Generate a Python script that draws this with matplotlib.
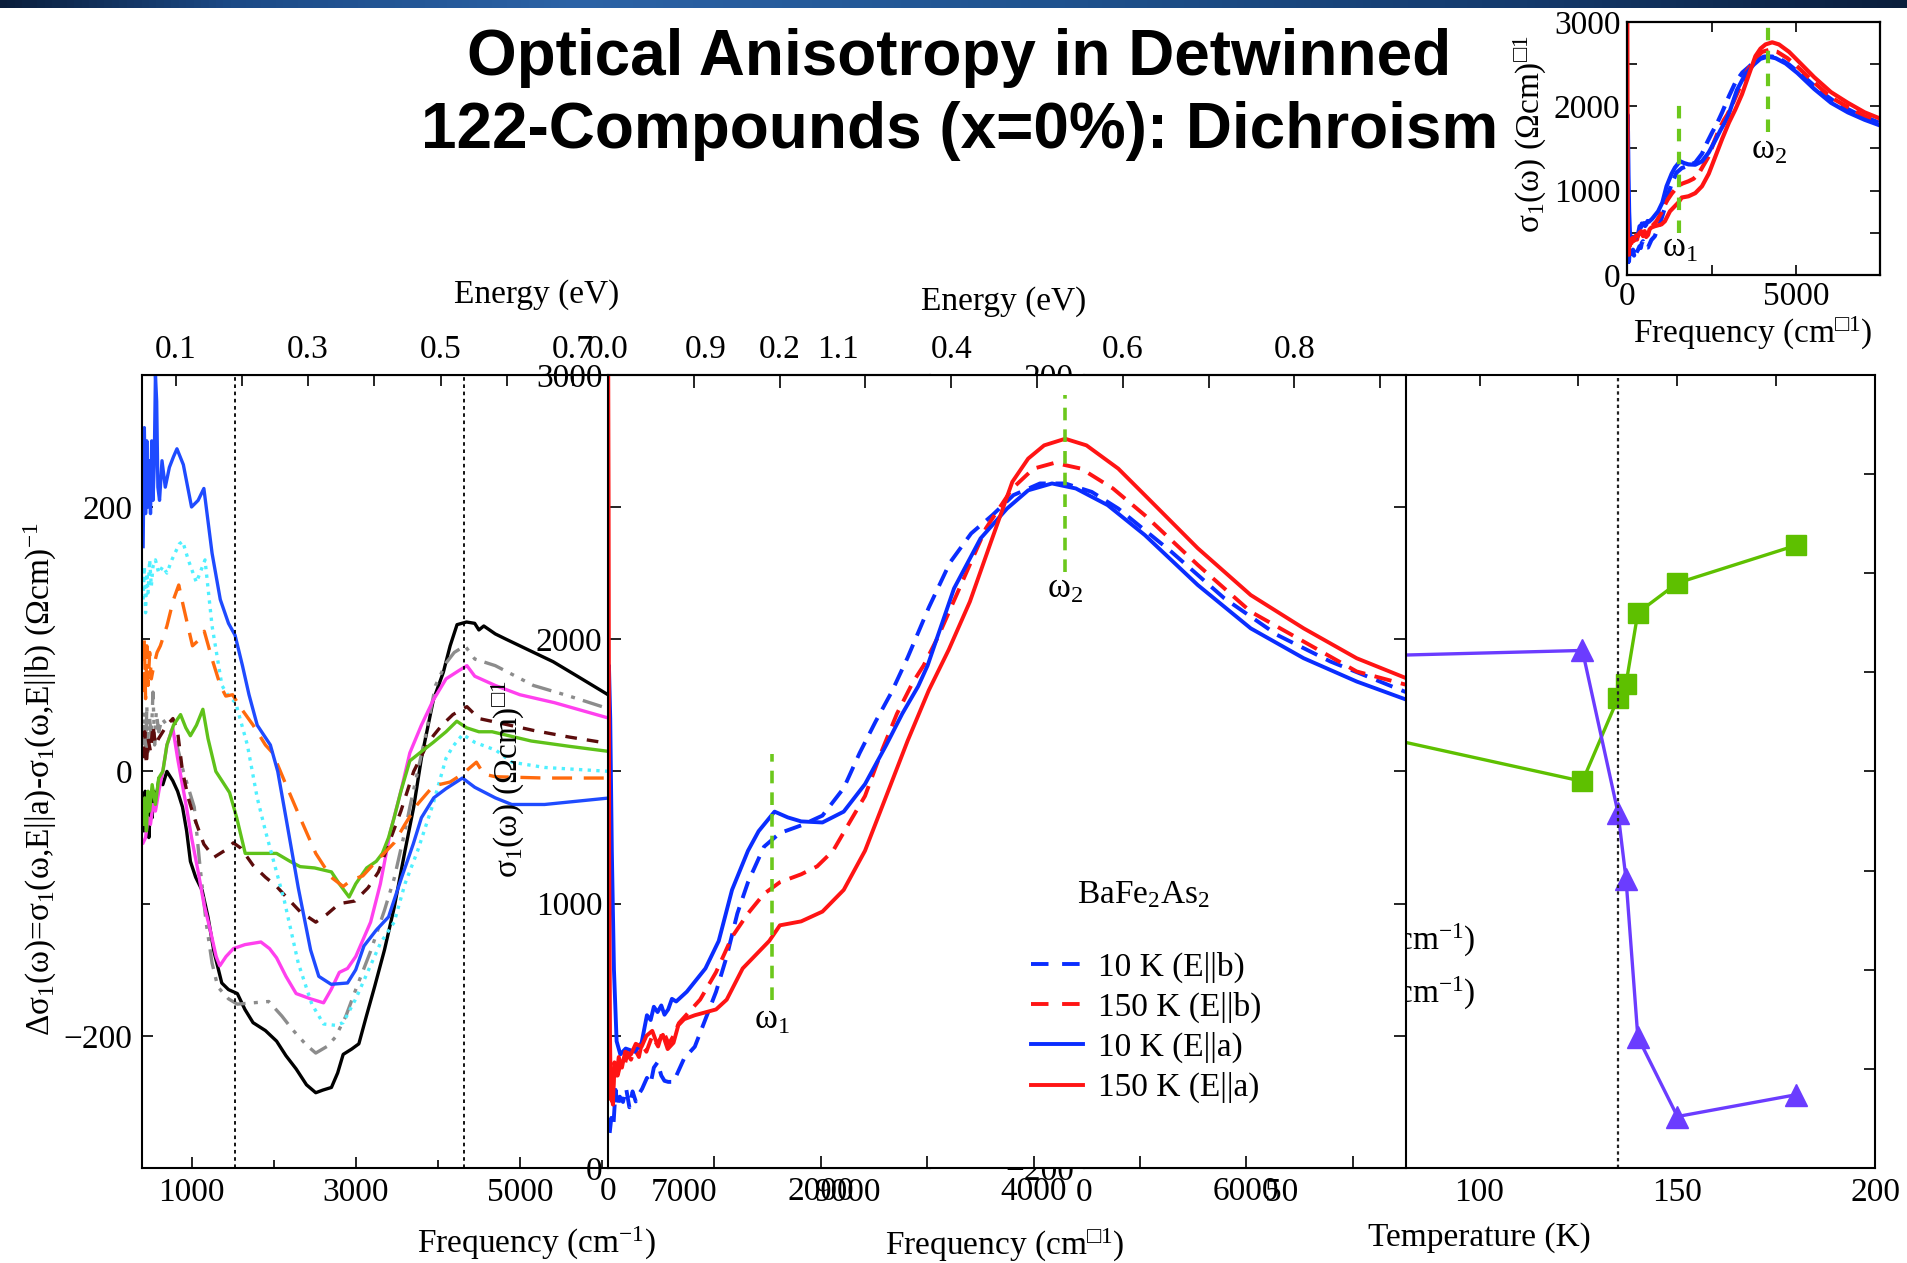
import numpy as np
import matplotlib.pyplot as plt
from matplotlib.colors import LinearSegmentedColormap
from matplotlib.lines import Line2D
from matplotlib.ticker import MultipleLocator, FixedLocator

plt.rcParams['font.family'] = ['Liberation Serif', 'DejaVu Serif']
plt.rcParams['mathtext.fontset'] = 'custom'
plt.rcParams['mathtext.rm'] = 'Liberation Serif'
plt.rcParams['mathtext.it'] = 'Liberation Serif:italic'
plt.rcParams['mathtext.bf'] = 'Liberation Serif:bold'

# ---------------- data: left panel, delta sigma1 (Ohm cm)^-1 vs frequency (cm^-1)
blue_f = [410, 425, 440, 455, 470, 485, 500, 515, 530, 545, 560, 575, 590, 610, 640, 680, 730, 780, 822, 900,
          1000, 1080, 1150, 1250, 1350, 1450, 1530, 1620, 1700, 1800, 1960, 2050, 2150, 2300, 2450, 2550, 2700,
          2900, 3000, 3100, 3250, 3400, 3560, 3700, 3800, 3950, 4100, 4300, 4450, 4700, 4900, 5300, 6100]
blue_v = [170, 260, 195, 250, 200, 235, 195, 250, 205, 230, 300, 280, 215, 205, 235, 215, 230, 238, 244, 232,
          200, 205, 214, 165, 130, 112, 103, 80, 58, 35, 20, 0, -35, -88, -135, -155, -161,
          -160, -150, -132, -120, -110, -80, -55, -35, -20, -13, -5, -12, -20, -25, -25, -20]

cyan_f = [410, 425, 440, 455, 470, 490, 510, 530, 560, 600, 650, 700, 760, 850, 892, 960, 1059, 1164, 1250, 1370,
          1450, 1537, 1680, 1800, 1900, 2131, 2300, 2465, 2608, 2750, 2847, 3000, 3086, 3300, 3468, 3600, 3754,
          3945, 4100, 4184, 4303, 4450, 4709, 4900, 5300, 6100]
cyan_v = [130, 155, 120, 150, 135, 160, 140, 155, 160, 150, 155, 150, 160, 172, 174, 160, 143, 160, 110, 65,
          57, 52, 20, -20, -45, -98, -145, -176, -191, -192, -190, -172, -160, -130, -114, -85, -60,
          -24, 10, 19, 28, 22, 16, 7, 3, 0]

orange_f = [410, 425, 440, 455, 470, 490, 510, 540, 580, 620, 700, 780, 844, 900, 1011, 1100, 1155, 1250, 1350,
            1417, 1500, 1600, 1750, 1900, 1988, 2150, 2322, 2513, 2700, 2847, 2950, 3086, 3250, 3468, 3600, 3750,
            3945, 4150, 4300, 4470, 4560, 4700, 5300, 6100]
orange_v = [60, 100, 55, 95, 65, 90, 70, 80, 90, 95, 110, 130, 141, 125, 95, 100, 106, 85, 65,
            57, 58, 48, 35, 20, 14, -10, -35, -62, -80, -87, -82, -79, -68, -54, -40, -25,
            -11, -8, -2, 7, -2, -4, -5, -5]

gray_f = [410, 425, 440, 455, 470, 490, 510, 530, 550, 570, 600, 640, 700, 795, 900, 1033, 1100, 1177, 1250, 1320,
          1450, 1558, 1750, 1940, 2100, 2226, 2400, 2513, 2650, 2752, 2880, 3000, 3181, 3350, 3468, 3600, 3659,
          3850, 3972, 4100, 4200, 4330, 4450, 4700, 5165, 5600, 6100]
gray_v = [20, 45, 10, 50, 15, 40, 25, 60, 20, 45, 30, 40, 35, 27, 0, -27, -70, -114, -145, -163,
          -172, -176, -175, -174, -185, -195, -207, -213, -208, -201, -185, -165, -136, -105, -81, -45, -27,
          27, 65, 82, 90, 95, 85, 80, 65, 57, 47]

brown_f = [410, 430, 450, 470, 500, 530, 560, 600, 650, 700, 773, 830, 890, 960, 1033, 1150, 1272, 1400, 1510,
           1600, 1749, 1900, 2036, 2200, 2322, 2513, 2650, 2800, 2990, 3150, 3277, 3400, 3550, 3706, 3850, 3945,
           4050, 4184, 4354, 4500, 4800, 5165, 5600, 6100]
brown_v = [10, 30, 5, 25, 15, 35, 20, 25, 30, 35, 40, 30, 0, -20, -35, -55, -65, -60, -54,
           -58, -71, -80, -87, -98, -106, -114, -108, -100, -98, -88, -76, -55, -30, 0, 18, 27,
           35, 43, 49, 40, 36, 31, 26, 21]

magenta_f = [410, 440, 470, 500, 530, 560, 604, 650, 700, 771, 830, 938, 1000, 1081, 1150, 1224, 1300, 1344, 1420,
             1510, 1650, 1845, 1950, 2036, 2150, 2274, 2450, 2608, 2700, 2800, 2900, 3000, 3181, 3300, 3420, 3550,
             3659, 3800, 3945, 4100, 4250, 4354, 4450, 4700, 5000, 5420, 6100]
magenta_v = [-54, -50, -35, -40, -25, -30, -14, 0, 20, 33, 10, -27, -50, -76, -100, -119, -140, -147, -140,
             -134, -131, -129, -134, -141, -155, -168, -172, -175, -165, -152, -149, -140, -114, -85, -46, -15,
             14, 35, 54, 70, 76, 80, 72, 65, 58, 52, 40]

green_f = [410, 430, 450, 470, 490, 520, 560, 600, 650, 700, 780, 866, 930, 986, 1060, 1138, 1200, 1296, 1380, 1463,
           1550, 1654, 1800, 2036, 2200, 2322, 2500, 2704, 2800, 2919, 3000, 3133, 3250, 3324, 3400, 3468, 3550,
           3659, 3800, 3945, 4100, 4231, 4350, 4500, 4661, 5138, 5600, 6100]
green_v = [-40, -20, -45, -15, -30, -10, -25, -5, 0, 20, 35, 43, 33, 27, 35, 47, 25, 0, -8, -16,
           -35, -62, -62, -62, -68, -72, -73, -76, -85, -95, -85, -73, -68, -62, -50, -35, -15,
           8, 15, 22, 30, 38, 33, 30, 30, 23, 19, 15]

black_f = [405, 420, 435, 450, 465, 480, 500, 520, 540, 560, 604, 650, 700, 771, 830, 890, 940, 986, 1050, 1129,
           1200, 1272, 1368, 1450, 1558, 1650, 1749, 1900, 2036, 2150, 2274, 2400, 2513, 2600, 2704, 2780, 2847,
           2950, 3038, 3130, 3229, 3350, 3468, 3600, 3706, 3800, 3945, 4067, 4150, 4234, 4350, 4449, 4500, 4560,
           4700, 4831, 5100, 5404, 5700, 6100]
black_v = [-30, -45, -15, -40, -20, -50, -25, -35, -15, -25, -5, -10, 0, -7, -15, -27, -45, -68, -80, -90,
           -110, -136, -160, -165, -168, -180, -190, -196, -204, -215, -225, -237, -243, -241, -239, -228, -214,
           -210, -206, -185, -163, -135, -103, -60, -27, 10, 54, 75, 95, 111, 113, 112, 107, 110,
           104, 100, 92, 83, 72, 57]

omega_left = [1533, 4318]

# ---------------- data: middle panel / inset, sigma1 (Ohm cm)^-1 vs frequency (cm^-1)
a10_f = [0, 8, 20, 35, 55, 80, 115, 165, 250, 315, 365, 400, 430, 465, 500, 530, 565, 600, 640, 740,
         915, 1040, 1165, 1315, 1415, 1565, 1690, 1815, 2015, 2215, 2415, 2615, 2765, 2915, 3003, 3252, 3501,
         3750, 3949, 4173, 4397, 4696, 5045, 5543, 6041, 6539, 7037, 7500]
a10_s = [1300, 1900, 1700, 1200, 750, 480, 430, 452, 440, 474, 578, 560, 610, 590, 615, 580, 600, 640, 630, 667,
         755, 859, 1052, 1200, 1274, 1348, 1326, 1311, 1307, 1348, 1452, 1600, 1718, 1822, 1900, 2192, 2381,
         2494, 2563, 2589, 2570, 2507, 2394, 2205, 2041, 1928, 1840, 1772]

b10_f = [15, 30, 50, 70, 90, 110, 140, 170, 200, 230, 260, 290, 320, 365, 400, 430, 465, 500, 530, 565,
         615, 715, 815, 915, 1015, 1115, 1215, 1315, 1465, 1615, 1815, 2015, 2215, 2365, 2515, 2665, 2815,
         3015, 3214, 3413, 3612, 3811, 4060, 4297, 4547, 4796, 5294, 5792, 6290, 6788, 7500]
b10_s = [133, 190, 160, 296, 230, 270, 250, 300, 230, 290, 252, 280, 300, 341, 320, 380, 400, 350, 330, 326,
         326, 415, 459, 563, 667, 800, 963, 1081, 1215, 1267, 1296, 1333, 1437, 1570, 1689, 1800, 1930,
         2120, 2290, 2400, 2469, 2545, 2589, 2589, 2557, 2494, 2331, 2155, 2016, 1916, 1800]

b150_f = [15, 40, 60, 90, 120, 150, 180, 215, 250, 290, 315, 360, 415, 470, 515, 570, 615, 665, 865, 1015,
          1165, 1315, 1465, 1615, 1815, 1965, 2115, 2265, 2415, 2565, 2715, 2865, 2965, 3103, 3302, 3551, 3800,
          3999, 4198, 4447, 4746, 5045, 5543, 6041, 6539, 7037, 7500]
b150_s = [300, 250, 380, 350, 400, 380, 430, 410, 450, 420, 470, 440, 500, 460, 520, 470, 500, 548, 637, 741,
          874, 963, 1037, 1081, 1111, 1141, 1200, 1304, 1407, 1570, 1718, 1837, 1900, 2010, 2192, 2419, 2570,
          2645, 2667, 2645, 2570, 2469, 2281, 2104, 1991, 1878, 1828]

a150_f = [0, 5, 10, 18, 25, 35, 45, 60, 80, 100, 130, 160, 215, 260, 315, 360, 415, 460, 515, 560,
          615, 660, 715, 815, 1015, 1115, 1265, 1515, 1615, 1815, 2015, 2215, 2415, 2615, 2815, 3015, 3202,
          3401, 3600, 3800, 3949, 4099, 4297, 4497, 4796, 5045, 5543, 6041, 6539, 7037, 7500]
a150_s = [3200, 2500, 1200, 500, 260, 300, 240, 400, 350, 420, 380, 440, 430, 470, 459, 500, 519, 470, 504, 450,
          474, 540, 563, 578, 600, 637, 755, 859, 918, 933, 970, 1052, 1200, 1407, 1615, 1807, 1960,
          2142, 2369, 2595, 2683, 2733, 2758, 2733, 2645, 2545, 2344, 2167, 2041, 1928, 1853]

omega1 = 1540
omega2 = 4297

# ---------------- data: right panel vs temperature
temp_K = [10, 126, 135, 137, 140, 150, 180]
green_T = [46, -5, 37, 44, 80, 95, 114]
purple_T = [55, 61, -21, -54, -134, -174, -163]
T_N = 135

# ---------------- layout helpers (positions in reference pixels, 1568 x 1038)
W, H = 1568.0, 1038.0


def box(x0, y0, x1, y1):
    return [x0 / W, 1 - y1 / H, (x1 - x0) / W, (y1 - y0) / H]


def fx(x):
    return x / W


def fy(y):
    return 1 - y / H


def e2f(e):
    return np.asarray(e) * 8065.5


def f2e(f):
    return np.asarray(f) / 8065.5


TS = 24   # tick label size
LS = 24   # label size

fig = plt.figure(figsize=(19.07, 12.63), dpi=100)

# top banner
bar = fig.add_axes([0, 1 - 8 / 1263, 1, 8 / 1263])
cmap = LinearSegmentedColormap.from_list('bar', [(0, '#0a1e3c'), (0.12, '#1c4a86'), (0.3, '#2c63a6'),
                                                 (0.55, '#20538f'), (0.8, '#143a6c'), (1, '#0a1e3c')])
bar.imshow(np.linspace(0, 1, 512)[None, :], aspect='auto', cmap=cmap, extent=[0, 1, 0, 1])
bar.set_axis_off()

fig.text(0.503, fy(48), 'Optical Anisotropy in Detwinned', ha='center', va='center',
         fontsize=46, fontweight='bold', family='Liberation Sans')
fig.text(0.503, fy(108), '122-Compounds (x=0%): Dichroism', ha='center', va='center',
         fontsize=46, fontweight='bold', family='Liberation Sans')

# ---------------- left panel
axL = fig.add_axes(box(117, 308, 765, 960), zorder=1)
lw = 2.4
axL.plot(black_f, black_v, color='black', lw=lw)
axL.plot(gray_f, gray_v, color='#8c8c8c', lw=lw, dashes=(6, 2.5, 1.2, 2.5, 1.2, 2.5))
axL.plot(magenta_f, magenta_v, color='#ff40ee', lw=lw)
axL.plot(brown_f, brown_v, color='#5c0c0c', lw=lw, dashes=(3.5, 3))
axL.plot(green_f, green_v, color='#5fc21a', lw=lw)
axL.plot(cyan_f, cyan_v, color='#4ff0ff', lw=lw, dashes=(1, 1.6))
axL.plot(orange_f, orange_v, color='#ff6a0d', lw=lw, dashes=(6, 3.5))
axL.plot(blue_f, blue_v, color='#1f4bff', lw=lw)
for w in omega_left:
    axL.axvline(w, color='black', lw=1.3, dashes=(2, 2))
axL.set_xlim(400, 10000)
axL.set_ylim(-300, 300)
axL.xaxis.set_major_locator(FixedLocator([1000, 3000, 5000, 7000, 9000]))
axL.xaxis.set_minor_locator(MultipleLocator(1000))
axL.yaxis.set_major_locator(FixedLocator([-200, 0, 200]))
axL.yaxis.set_minor_locator(MultipleLocator(100))
axL.tick_params(which='both', direction='in', labelsize=TS, width=1.2)
axL.tick_params(which='major', length=8, pad=7)
axL.tick_params(which='minor', length=6)
secL = axL.secondary_xaxis('top', functions=(f2e, e2f))
secL.xaxis.set_major_locator(FixedLocator([0.1, 0.3, 0.5, 0.7, 0.9, 1.1]))
secL.xaxis.set_minor_locator(FixedLocator([0.2, 0.4, 0.6, 0.8, 1.0, 1.2]))
secL.tick_params(which='both', direction='in', labelsize=TS, width=1.2)
secL.tick_params(which='major', length=8, pad=7)
secL.tick_params(which='minor', length=8)
for s in axL.spines.values():
    s.set_linewidth(1.5)

# ---------------- right panel (temperature)
axR = fig.add_axes(box(891, 308, 1542, 960), zorder=2)
axR.plot(temp_K, green_T, color='#5ec000', lw=2.4, marker='s', ms=15)
axR.plot(temp_K, purple_T, color='#6b3cff', lw=2.4, marker='^', ms=16)
axR.axvline(T_N, color='#222222', lw=1.6, dashes=(1.5, 1.5))
axR.set_xlim(0, 200)
axR.set_ylim(-200, 200)
axR.xaxis.set_major_locator(FixedLocator([0, 50, 100, 150, 200]))
axR.xaxis.set_minor_locator(MultipleLocator(25))
axR.yaxis.set_major_locator(MultipleLocator(100))
axR.yaxis.set_minor_locator(MultipleLocator(50))
axR.tick_params(which='both', direction='in', labelsize=TS, width=1.2, top=True, bottom=False, right=True)
axR.tick_params(which='major', length=8, pad=7)
axR.tick_params(which='minor', length=8)
axR.text(99, -85, r'$\mathrm{ω}_1$ (cm$^{-1}$)', ha='right', va='center', fontsize=LS)
axR.text(99, -112, r'$\mathrm{ω}_2$ (cm$^{-1}$)', ha='right', va='center', fontsize=LS)
for s in axR.spines.values():
    s.set_linewidth(1.5)

# ---------------- middle panel
axM = fig.add_axes(box(500, 308, 1156, 960), zorder=3)
axM.set_facecolor('white')
blue = '#0a2dff'
red = '#ff1414'
gw = '#6cc81c'
mlw = 2.8
axM.plot(b10_f, b10_s, color=blue, lw=mlw, dashes=(4.5, 2.5))
axM.plot(b150_f, b150_s, color=red, lw=mlw, dashes=(4.5, 2.5))
axM.plot(a10_f, a10_s, color=blue, lw=mlw)
axM.plot(a150_f, a150_s, color=red, lw=mlw)
axM.plot([omega1, omega1], [635, 1565], color=gw, lw=2.6, dashes=(3.5, 2.5))
axM.plot([omega2, omega2], [2255, 2922], color=gw, lw=2.6, dashes=(3.5, 2.5))
axM.text(omega1, 560, r'$\mathrm{ω}_1$', ha='center', va='center', fontsize=LS + 1)
axM.text(omega2, 2190, r'$\mathrm{ω}_2$', ha='center', va='center', fontsize=LS + 1)
axM.text(5030, 1035, r'BaFe$_2$As$_2$', ha='center', va='center', fontsize=LS)
handles = [Line2D([], [], color=blue, lw=mlw, dashes=(4.5, 3.5)),
           Line2D([], [], color=red, lw=mlw, dashes=(4.5, 3.5)),
           Line2D([], [], color=blue, lw=mlw),
           Line2D([], [], color=red, lw=mlw)]
labels = ['10 K (E||b)', '150 K (E||b)', '10 K (E||a)', '150 K (E||a)']
axM.legend(handles, labels, loc='upper left', bbox_to_anchor=(0.53, 0.273), frameon=False, fontsize=LS,
           handlelength=1.56, handletextpad=0.45, labelspacing=0.27, borderpad=0, borderaxespad=0)
axM.set_xlim(0, 7500)
axM.set_ylim(0, 3000)
axM.xaxis.set_major_locator(FixedLocator([0, 2000, 4000, 6000]))
axM.xaxis.set_minor_locator(MultipleLocator(1000))
axM.yaxis.set_major_locator(MultipleLocator(1000))
axM.yaxis.set_minor_locator(MultipleLocator(500))
axM.tick_params(which='both', direction='in', labelsize=TS, width=1.2, right=True)
axM.tick_params(which='major', length=9, pad=6)
axM.tick_params(which='minor', length=9)
axM.tick_params(axis='y', pad=4)
secM = axM.secondary_xaxis('top', functions=(f2e, e2f))
secM.xaxis.set_major_locator(FixedLocator([0.0, 0.2, 0.4, 0.6, 0.8]))
secM.xaxis.set_minor_locator(FixedLocator([0.1, 0.3, 0.5, 0.7, 0.9]))
secM.xaxis.set_major_formatter(plt.FormatStrFormatter('%.1f'))
secM.tick_params(which='both', direction='in', labelsize=TS, width=1.2)
secM.tick_params(which='major', length=9, pad=7)
secM.tick_params(which='minor', length=9)
for s in axM.spines.values():
    s.set_linewidth(1.5)

# ---------------- inset
axI = fig.add_axes(box(1338, 18, 1546, 226), zorder=4)
axI.plot(b10_f, b10_s, color=blue, lw=3, dashes=(4, 2))
axI.plot(b150_f, b150_s, color=red, lw=3, dashes=(4, 2))
axI.plot(a10_f, a10_s, color=blue, lw=3)
axI.plot(a150_f, a150_s, color=red, lw=3)
axI.plot([omega1, omega1], [500, 2100], color=gw, lw=3, dashes=(3, 2.5))
axI.plot([omega2 - 120, omega2 - 120], [1700, 3000], color=gw, lw=3, dashes=(3, 2.5))
axI.text(omega1 + 30, 320, r'$\mathrm{ω}_1$', ha='center', va='center', fontsize=LS + 1)
axI.text(omega2 - 80, 1480, r'$\mathrm{ω}_2$', ha='center', va='center', fontsize=LS + 1)
axI.set_xlim(0, 7500)
axI.set_ylim(0, 3000)
axI.xaxis.set_major_locator(FixedLocator([0, 5000]))
axI.xaxis.set_minor_locator(MultipleLocator(2500))
axI.yaxis.set_major_locator(MultipleLocator(1000))
axI.yaxis.set_minor_locator(MultipleLocator(500))
axI.tick_params(which='both', direction='in', labelsize=TS, width=1.2, top=True, right=True)
axI.tick_params(which='major', length=7, pad=5)
axI.tick_params(which='minor', length=7)
for s in axI.spines.values():
    s.set_linewidth(1.6)

# ---------------- axis labels placed as figure text
kw = dict(ha='center', va='center', fontsize=LS, zorder=10)
fig.text(fx(441), fy(242), 'Energy (eV)', **kw)
fig.text(fx(825), fy(248), 'Energy (eV)', **kw)
fig.text(fx(441), fy(1022), r'Frequency (cm$^{-1}$)', **kw)
fig.text(fx(826), fy(1024), r'Frequency (cm$^{\mathrm{□1}}$)', **kw)
fig.text(fx(1216), fy(1017), 'Temperature (K)', **kw)
fig.text(fx(33), fy(640), r'Δσ$_1$(ω)=σ$_1$(ω,E||a)-σ$_1$(ω,E||b) (Ωcm)$^{-1}$', rotation=90, **kw)
fig.text(fx(418), fy(640), r'σ$_1$(ω) (Ωcm)$^{\mathrm{□1}}$', rotation=90, **kw)
fig.text(fx(1258), fy(110), r'σ$_1$(ω) (Ωcm)$^{\mathrm{□1}}$', rotation=90, **kw)
fig.text(fx(1441), fy(274), r'Frequency (cm$^{\mathrm{□1}}$)', **kw)

fig.savefig('out.png', dpi=100)
